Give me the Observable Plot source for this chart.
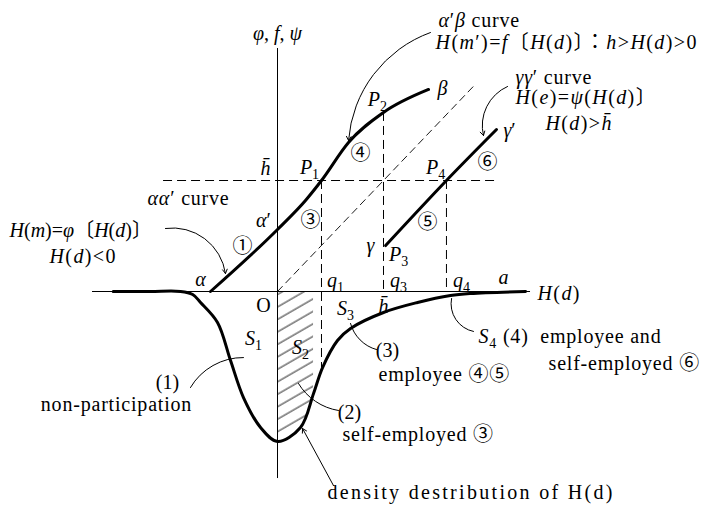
<!DOCTYPE html>
<html>
<head>
<meta charset="utf-8">
<script src="https://cdn.jsdelivr.net/npm/d3@7"></script>
<script src="https://cdn.jsdelivr.net/npm/@observablehq/plot@0.6"></script>
<style>
  html, body { margin: 0; padding: 0; background: #fff; }
  #chart svg { display: block; }
</style>
</head>
<body>
<div id="chart"></div>
<script>
// Units: H(d) on x, φ, f, ψ on y; h̄ = 1 on both axes.

// Density distribution of H(d) (drawn below the axis)
const densityX = [-1.55, -1.2, -0.915, -0.80, -0.726, -0.566, -0.443, -0.321, -0.16, 0, 0.217, 0.34, 0.425, 0.566, 0.689, 1.0, 1.321, 1.632, 1.821, 2.34];
const densityY = [0, 0, 0, -0.027, -0.099, -0.279, -0.622, -0.955, -1.225, -1.351, -1.225, -0.919, -0.685, -0.441, -0.333, -0.189, -0.099, -0.036, -0.018, 0];

// αα′ and α′β curves: H(m) = φ[H(d)], H(m′) = f[H(d)]
const alphaBetaX = [-0.632, 0, 0.264, 0.415, 0.670, 1.0, 1.425];
const alphaBetaY = [0, 0.559, 0.820, 1.0, 1.342, 1.613, 1.820];

// γγ′ curve: H(e) = ψ(H(d))
const gammaX = [1.02, 1.594, 2.066];
const gammaY = [0.414, 1.0, 1.459];

// Reference levels
const hBar = 1;          // h̄
const q1 = 0.415;        // H(d) where α′β reaches h̄
const q3 = 1.0;          // H(d) = h̄
const q4 = 1.594;        // H(d) where γγ′ reaches h̄
const diagonalEnd = 1.86; // 45° guide line

// Axis extents
const axisX = [-1.745, 2.387];
const axisY = [-1.685, 2.189];

const density = densityX.map((x, i) => ({x, y: densityY[i]}));
const alphaBeta = alphaBetaX.map((x, i) => ({x, y: alphaBetaY[i]}));
const gamma = gammaX.map((x, i) => ({x, y: gammaY[i]}));
const hatched = density.filter(d => d.x >= 0 && d.x <= q1);

// Labels: * toggles italic, _ makes the next character a subscript
const symbolLabels = [
  {x: 0, y: 2.324, text: "*φ*, *f*, *ψ*"},
  {x: -0.113, y: 1.108, text: "*h\u0304*"},
  {x: 0.302, y: 1.117, text: "*P*_1"},
  {x: -0.132, y: 0.640, text: "*α*′"},
  {x: 0.311, y: 0.640, text: "③"},
  {x: -0.330, y: 0.405, text: "①"},
  {x: -0.726, y: 0.108, text: "*α*"},
  {x: -0.132, y: -0.126, text: "O"},
  {x: 0.547, y: 0.099, text: "*q*_1"},
  {x: 1.142, y: 0.099, text: "*q*_3"},
  {x: 1.736, y: 0.099, text: "*q*_4"},
  {x: 2.132, y: 0.126, text: "*a*"},
  {x: 1.0, y: -0.135, text: "*h\u0304*"},
  {x: 0.642, y: -0.153, text: "*S*_3"},
  {x: -0.226, y: -0.423, text: "*S*_1"},
  {x: 0.217, y: -0.505, text: "*S*_2"},
  {x: -1.038, y: -0.820, text: "(1)"},
  {x: 0.679, y: -1.090, text: "(2)"},
  {x: 1.038, y: -0.532, text: "(3)"},
  {x: 0.943, y: 1.730, text: "*P*_2"},
  {x: 1.557, y: 1.829, text: "*β*"},
  {x: 0.783, y: 1.243, text: "④"},
  {x: 1.491, y: 1.117, text: "*P*_4"},
  {x: 1.981, y: 1.162, text: "⑥"},
  {x: 1.415, y: 0.622, text: "⑤"},
  {x: 0.877, y: 0.414, text: "*γ*"},
  {x: 1.142, y: 0.333, text: "*P*_3"},
  {x: 2.189, y: 1.450, text: "*γ*′"}
];
const centerProse = [
  {x: -1.519, y: -1.018, text: "non-participation"}
];
const proseLabels = [
  {x: -1.226, y: 0.838, text: "*αα*′ curve"},
  {x: 0.613, y: -1.288, text: "self-employed ③"},
  {x: 0.953, y: -0.748, text: "employee ④⑤"},
  {x: 1.896, y: -0.405, text: "*S*_4 (4)  employee and"},
  {x: 2.557, y: -0.649, text: "self-employed ⑥"},
  {x: 1.519, y: 2.441, text: "*α*′*β* curve"},
  {x: 2.245, y: 1.928, text: "*γγ*′ curve"}
];
const mathLabels = [
  {x: -2.151, y: 0.315, text: "*H*(*d*)<0"},
  {x: 2.453, y: -0.018, text: "*H*(*d*)"},
  {x: 1.491, y: 2.243, text: "*H*(*m*′)=*f*〔*H*(*d*)〕：*h*>*H*(*d*)>0"},
  {x: 2.245, y: 1.748, text: "*H*(*e*)=*ψ*(*H*(*d*)〕"},
  {x: 2.528, y: 1.514, text: "*H*(*d*)>*h\u0304*"}
];
const tightLabels = [
  {x: -2.528, y: 0.550, text: "*H*(*m*)=*φ*〔*H*(*d*)〕"}
];
const captionLabels = [
  {x: 0.472, y: -1.811, text: "density destribution of H(d)"}
];

// Leader lines; bend in degrees (positive = clockwise), head = arrowhead length
const leaders = [
  {x1: -1.057, y1: 0.568, x2: -0.491, y2: 0.162, bend: 45, head: 7},
  {x1: 1.443, y1: 2.333, x2: 0.670, y2: 1.360, bend: -33, head: 7},
  {x1: 2.170, y1: 1.847, x2: 1.943, y2: 1.405, bend: -40, head: 7},
  {x1: -0.821, y1: -0.865, x2: -0.321, y2: -0.595, bend: 30, head: 0},
  {x1: 0.575, y1: -1.072, x2: 0.198, y2: -0.829, bend: 25, head: 0},
  {x1: 0.934, y1: -0.523, x2: 0.689, y2: -0.288, bend: 30, head: 0},
  {x1: 1.849, y1: -0.360, x2: 1.642, y2: -0.063, bend: 45, head: 0},
  {x1: 0.528, y1: -1.748, x2: 0.236, y2: -1.234, bend: 0, head: 7}
];

const fontFamily = '"Liberation Serif", "Noto Sans CJK JP", serif';
const fontSize = 20;

// letter spacing (px) for each label group, keyed by label text
const letterSpacing = new Map();
for (const d of centerProse.concat(proseLabels)) letterSpacing.set(d.text, 0.8);
for (const d of mathLabels) letterSpacing.set(d.text, 1.4);
for (const d of captionLabels) letterSpacing.set(d.text, 2.3);

const textMark = (data, anchor) => Plot.text(data, {
  x: "x", y: "y", text: "text", textAnchor: anchor, lineAnchor: "middle",
  fontSize, fontFamily, fill: "#000"
});

const chart = Plot.plot({
  width: 721,
  height: 512,
  margin: 0,
  x: {domain: [0, 1], range: [277, 383], axis: null},
  y: {domain: [0, 1], range: [291, 180], axis: null},
  style: {background: "#fff", color: "#000", fontFamily},
  marks: [
    // hatched self-employed share S2
    Plot.areaY(hatched, {x: "x", y1: 0, y2: "y", curve: "catmull-rom", fill: "url(#hatch)"}),
    // axes
    Plot.ruleY([0], {x1: axisX[0], x2: axisX[1], stroke: "#000", strokeWidth: 1}),
    Plot.ruleX([0], {y1: axisY[0], y2: axisY[1], stroke: "#000", strokeWidth: 1}),
    // dashed guides
    Plot.ruleY([hBar], {x1: -1.075, x2: 2.057, stroke: "#000", strokeWidth: 1, strokeDasharray: "9,5"}),
    Plot.line([{x: 0, y: 0}, {x: diagonalEnd, y: diagonalEnd}], {x: "x", y: "y", stroke: "#000", strokeWidth: 0.9, strokeDasharray: "7,5"}),
    Plot.ruleX([q1], {y1: hBar, y2: density[12].y, stroke: "#000", strokeWidth: 1, strokeDasharray: "9,5"}),
    Plot.ruleX([q3], {y1: alphaBetaY[5], y2: 0, stroke: "#000", strokeWidth: 1, strokeDasharray: "9,5"}),
    Plot.ruleX([q4], {y1: hBar, y2: 0, stroke: "#000", strokeWidth: 1, strokeDasharray: "9,5"}),
    // curves
    Plot.line(density, {x: "x", y: "y", curve: "catmull-rom", stroke: "#000", strokeWidth: 3}),
    Plot.line(alphaBeta, {x: "x", y: "y", curve: "monotone-x", stroke: "#000", strokeWidth: 3}),
    Plot.line(gamma, {x: "x", y: "y", curve: "catmull-rom", stroke: "#000", strokeWidth: 3}),
    // leaders
    ...leaders.map(d => Plot.arrow([d], {
      x1: "x1", y1: "y1", x2: "x2", y2: "y2",
      bend: d.bend, headLength: d.head, stroke: "#000", strokeWidth: 1
    })),
    // labels
    textMark(symbolLabels, "middle"),
    textMark(centerProse, "middle"),
    textMark(proseLabels, "start"),
    textMark(mathLabels, "start"),
    textMark(tightLabels, "start"),
    textMark(captionLabels, "start")
  ]
});

// hatch pattern for S2
const ns = "http://www.w3.org/2000/svg";
const defs = document.createElementNS(ns, "defs");
defs.innerHTML = '<pattern id="hatch" patternUnits="userSpaceOnUse" width="14" height="10.8" patternTransform="rotate(-30)">' +
  '<line x1="-1" y1="5" x2="15" y2="5" stroke="#000" stroke-width="0.85"/></pattern>';
chart.insertBefore(defs, chart.firstChild);

// letter spacing, then italic / subscript runs inside labels
chart.querySelectorAll("text").forEach(t => {
  const s = t.textContent;
  if (letterSpacing.has(s)) t.setAttribute("letter-spacing", letterSpacing.get(s));
  if (!/[*_]/.test(s)) return;
  const segs = [];
  let italic = false;
  for (let i = 0; i < s.length; i++) {
    const c = s[i];
    if (c === "*") { italic = !italic; continue; }
    if (c === "_") { segs.push({t: s[i + 1], italic, sub: true}); i++; continue; }
    const last = segs[segs.length - 1];
    if (last && !last.sub && last.italic === italic) last.t += c;
    else segs.push({t: c, italic, sub: false});
  }
  t.textContent = "";
  let shifted = false;
  for (const g of segs) {
    const ts = document.createElementNS(ns, "tspan");
    ts.textContent = g.t;
    if (g.italic) ts.setAttribute("font-style", "italic");
    if (g.sub) {
      ts.setAttribute("font-size", "0.7em");
      if (!shifted) { ts.setAttribute("dy", "5"); shifted = true; }
    } else if (shifted) {
      ts.setAttribute("dy", "-5"); shifted = false;
    }
    t.appendChild(ts);
  }
});

document.getElementById("chart").appendChild(chart);
</script>
</body>
</html>
